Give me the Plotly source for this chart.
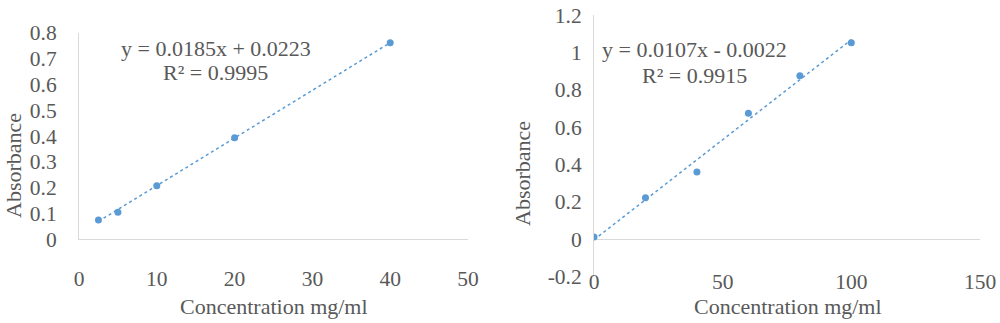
import plotly.graph_objects as go

# ---- data ----
conc_a = [2.5, 5, 10, 20, 40]
abs_a = [0.074, 0.104, 0.207, 0.393, 0.762]
slope_a, icpt_a = 0.0185, 0.0223
eq_a = ["y = 0.0185x + 0.0223", "R² = 0.9995"]

conc_b = [0, 20, 40, 60, 80, 100]
abs_b = [0.012, 0.222, 0.36, 0.675, 0.875, 1.051]
slope_b, icpt_b = 0.0107, -0.0022
eq_b = ["y = 0.0107x - 0.0022", "R² = 0.9915"]

xticks_a = [0, 10, 20, 30, 40, 50]
yticks_a = [0, 0.1, 0.2, 0.3, 0.4, 0.5, 0.6, 0.7, 0.8]
yticklabels_a = ["0", "0.1", "0.2", "0.3", "0.4", "0.5", "0.6", "0.7", "0.8"]
xticks_b = [0, 50, 100, 150]
yticks_b = [-0.2, 0, 0.2, 0.4, 0.6, 0.8, 1.0, 1.2]
yticklabels_b = ["-0.2", "0", "0.2", "0.4", "0.6", "0.8", "1", "1.2"]

x_title = "Concentration mg/ml"
y_title = "Absorbance"

BLUE = "#5B9BD5"
TXT = "#595959"
LINE = "#D9D9D9"
FONT = "Liberation Serif, 'Times New Roman', DejaVu Serif, serif"

fig = go.Figure()

def add_panel(xs, ys, m, b, xa, ya):
    fit_x = [min(xs), max(xs)]
    fit_y = [m * v + b for v in fit_x]
    fig.add_trace(go.Scatter(x=fit_x, y=fit_y, mode="lines",
                             line=dict(color=BLUE, width=1.5, dash="dot"),
                             xaxis=xa, yaxis=ya, showlegend=False))
    fig.add_trace(go.Scatter(x=xs, y=ys, mode="markers",
                             marker=dict(color=BLUE, size=7),
                             xaxis=xa, yaxis=ya, showlegend=False))

add_panel(conc_a, abs_a, slope_a, icpt_a, "x", "y")
add_panel(conc_b, abs_b, slope_b, icpt_b, "x2", "y2")

tick_font = dict(family=FONT, size=21.5, color=TXT)
title_font = dict(family=FONT, size=22, color=TXT)

common = dict(showgrid=False, ticks="", tickfont=tick_font, automargin=False,
              fixedrange=True)

fig.update_layout(
    width=1000, height=323, autosize=False,
    margin=dict(l=0, r=0, t=0, b=0, pad=0),
    paper_bgcolor="white", plot_bgcolor="white",
    showlegend=False,
    font=dict(family=FONT, color=TXT),
    xaxis=dict(domain=[0.079, 0.468], range=[0, 50], tickvals=xticks_a,
               zeroline=False, showline=True, linecolor=LINE, linewidth=1,
               anchor="y", ticklabelstandoff=20, **common),
    yaxis=dict(domain=[0.260, 0.898], range=[0, 0.8], tickvals=yticks_a,
               ticktext=yticklabels_a,
               zeroline=False, showline=True, linecolor=LINE, linewidth=1,
               anchor="x", ticklabelstandoff=17, **common),
    xaxis2=dict(domain=[0.594, 0.980], range=[0, 150], tickvals=xticks_b,
                zeroline=False, showline=False,
                anchor="y2", ticklabelstandoff=-10, **common),
    yaxis2=dict(domain=[0.1433, 0.9536], range=[-0.2, 1.2], tickvals=yticks_b,
                ticktext=yticklabels_b,
                zeroline=True, zerolinecolor=LINE, zerolinewidth=1,
                showline=True, linecolor=LINE, linewidth=1,
                anchor="x2", ticklabelstandoff=7, **common),
)

# axis titles as paper-positioned text
for xc, yc, txt, ang in [
    (273.5, 306, x_title, 0), (788, 306, x_title, 0),
    (13, 166, y_title, -90), (522, 174, y_title, -90),
]:
    fig.add_annotation(x=xc / 1000, y=1 - yc / 323, xref="paper", yref="paper",
                       text=txt, textangle=ang, showarrow=False,
                       xanchor="center", yanchor="middle", font=title_font)

# equation labels (positioned in data coords of each panel)
fig.add_annotation(x=17.6, y=0.74, xref="x", yref="y", text=eq_a[0],
                   showarrow=False, font=title_font)
fig.add_annotation(x=17.6, y=0.645, xref="x", yref="y", text=eq_a[1],
                   showarrow=False, font=title_font)
fig.add_annotation(x=38.9, y=1.016, xref="x2", yref="y2", text=eq_b[0],
                   showarrow=False, font=title_font)
fig.add_annotation(x=38.9, y=0.875, xref="x2", yref="y2", text=eq_b[1],
                   showarrow=False, font=title_font)

fig.write_html("out.html", config={"displayModeBar": False})
